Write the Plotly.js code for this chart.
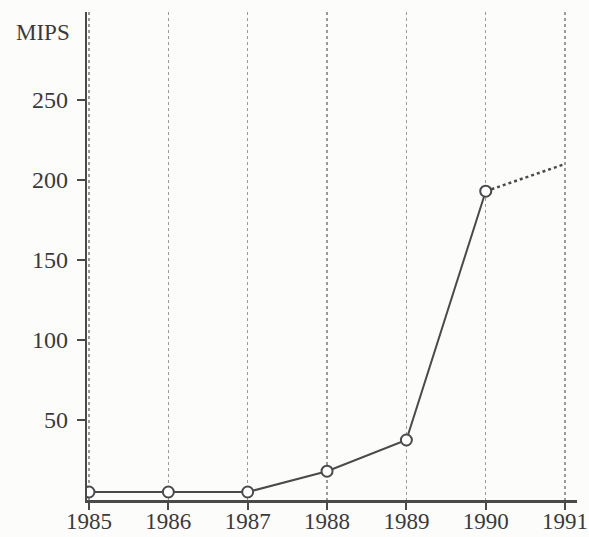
<!DOCTYPE html>
<html><head><meta charset="utf-8">
<script src="https://cdn.plot.ly/plotly-3.0.1.min.js"></script>
<style>html,body{margin:0;padding:0;background:#fcfcfb;}</style>
</head><body>
<div id="chart" style="width:589px;height:537px;"></div>
<script>
const years = [1985, 1986, 1987, 1988, 1989, 1990];
const mips = [5, 5, 5, 18, 37.5, 193];
const projYears = [1990, 1991];
const projMips = [193, 210];
const xTicks = [1985, 1986, 1987, 1988, 1989, 1990, 1991];
const yTicks = [50, 100, 150, 200, 250];
const yLabel = 'MIPS';

const ink = '#4a4a4a';
const traces = [
  {x: projYears, y: projMips, mode: 'lines', line: {color: ink, width: 2.5, dash: 'dot'}, hoverinfo: 'skip'},
  {x: years, y: mips, mode: 'lines+markers', line: {color: ink, width: 2},
   marker: {symbol: 'circle', size: 11, color: '#ffffff', line: {color: ink, width: 2}}}
];
const yTickAnns = yTicks.map(v => ({xref: 'paper', yref: 'y', x: 0, y: v, xanchor: 'right', yanchor: 'middle',
  xshift: -17, text: String(v), showarrow: false, font: {size: 24}}));
const layout = {
  width: 589, height: 537,
  margin: {l: 87, r: 12, t: 12, b: 37},
  paper_bgcolor: '#fcfcfb', plot_bgcolor: '#fcfcfb',
  showlegend: false,
  font: {family: 'Liberation Serif, Times New Roman, serif', size: 24, color: '#3a3a3a'},
  xaxis: {range: [1984.975, 1991.15], tickvals: xTicks, ticktext: xTicks.map(String),
    showline: true, linecolor: ink, linewidth: 2.5, ticks: 'outside', ticklen: 7, tickwidth: 2, tickcolor: ink,
    ticklabelstandoff: -8, tickfont: {size: 23},
    showgrid: true, gridcolor: '#9a9a9a', griddash: 'dot', gridwidth: 1.2, zeroline: false},
  yaxis: {range: [0, 305], tickvals: yTicks, showticklabels: false,
    showline: true, linecolor: ink, linewidth: 2.5, ticks: 'outside', ticklen: 8, tickwidth: 2, tickcolor: ink,
    showgrid: false, zeroline: false},
  annotations: yTickAnns.concat([{xref: 'paper', yref: 'y', x: 0, y: 292, xanchor: 'right', yanchor: 'middle', xshift: -15,
    text: yLabel, showarrow: false, font: {size: 23}}])
};
Plotly.newPlot('chart', traces, layout, {displayModeBar: false, staticPlot: true});
</script>
</body></html>
